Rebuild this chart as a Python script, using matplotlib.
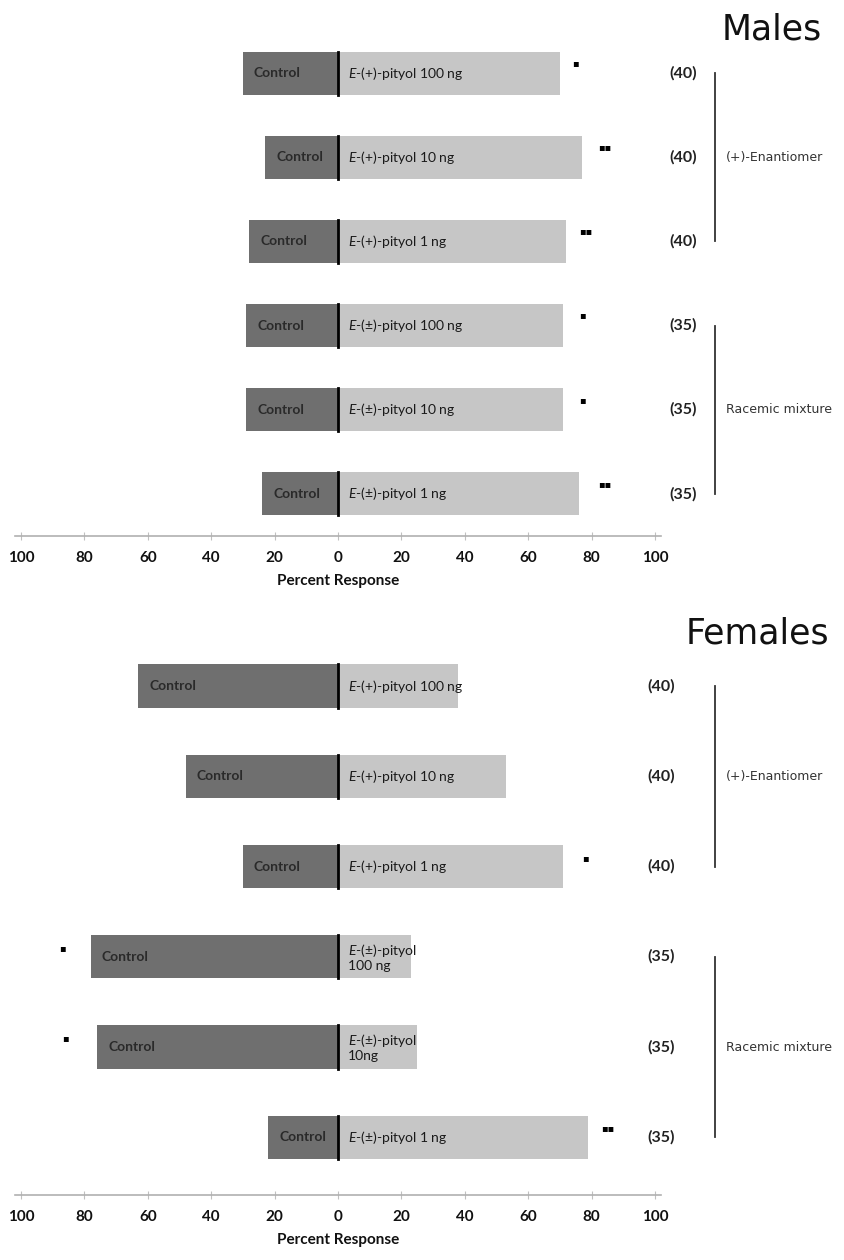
import matplotlib
matplotlib.use("Agg")
import matplotlib.pyplot as plt

plt.rcParams['font.family'] = ['Lato', 'DejaVu Sans']
plt.rcParams['mathtext.fontset'] = 'custom'
plt.rcParams['mathtext.it'] = 'Lato:italic'
plt.rcParams['mathtext.rm'] = 'Lato'

# Males
male_labels = ["$E$-(+)-pityol 100 ng", "$E$-(+)-pityol 10 ng", "$E$-(+)-pityol 1 ng",
               "$E$-(±)-pityol 100 ng", "$E$-(±)-pityol 10 ng", "$E$-(±)-pityol 1 ng"]
male_control = [30, 23, 28, 29, 29, 24]
male_treat = [70, 77, 72, 71, 71, 76]
male_n = ["(40)", "(40)", "(40)", "(35)", "(35)", "(35)"]
male_sig = ["▪", "▪▪", "▪▪", "▪", "▪", "▪▪"]
male_sig_x = [75, 84, 78, 77, 77, 84]

# Females
female_labels = ["$E$-(+)-pityol 100 ng", "$E$-(+)-pityol 10 ng", "$E$-(+)-pityol 1 ng",
                 "$E$-(±)-pityol\n100 ng", "$E$-(±)-pityol\n10ng", "$E$-(±)-pityol 1 ng"]
female_control = [63, 48, 30, 78, 76, 22]
female_treat = [38, 53, 71, 23, 25, 79]
female_n = ["(40)", "(40)", "(40)", "(35)", "(35)", "(35)"]
female_sig = ["", "", "▪", "▪", "▪", "▪▪"]
female_sig_x = [0, 0, 78, -87, -86, 85]

ticks = [-100, -80, -60, -40, -20, 0, 20, 40, 60, 80, 100]

dark = "#6f6f6f"
light = "#c6c6c6"

W, H = 845, 1260
fig = plt.figure(figsize=(W / 100, H / 100), dpi=100)

x0 = 338
scale = 3.17
left = (x0 - 102 * scale) / W
width = 204 * scale / W


def panel(ax, control, treat, labels, nvals, sig, sig_x, height, ylim, n_x, sig_dy):
    pos = list(range(len(control)))
    ax.barh(pos, [-c for c in control], height=height, color=dark, edgecolor="none")
    ax.barh(pos, treat, height=height, color=light, edgecolor="none")
    for p in pos:
        ax.plot([0, 0], [p - height / 2, p + height / 2], color="black", lw=2)
    for p, c, t, lab, n, s, sx in zip(pos, control, treat, labels, nvals, sig, sig_x):
        ax.text(-c + 3.5, p, "Control", ha="left", va="center", fontsize=10,
                fontweight="bold", color="#2a2a2a")
        ax.text(3, p, lab, ha="left", va="center", fontsize=10, color="#1a1a1a",
                linespacing=1.1)
        ax.text(n_x, p, n, ha="center", va="center", fontsize=11.5,
                fontweight="bold", color="#222222", clip_on=False)
        if s:
            ax.text(sx, p + sig_dy, s, ha="center", va="center", fontsize=7,
                    color="black", family="DejaVu Sans", clip_on=False)
    # group brackets
    ax.plot([119, 119], [0, 2], color="#333333", lw=1.3, clip_on=False)
    ax.plot([119, 119], [3, 5], color="#333333", lw=1.3, clip_on=False)
    ax.text(122.5, 1, "(+)-Enantiomer", fontsize=9, family="DejaVu Sans",
            color="#333333", va="center", ha="left", clip_on=False)
    ax.text(122.5, 4, "Racemic mixture", fontsize=9, family="DejaVu Sans",
            color="#333333", va="center", ha="left", clip_on=False)

    ax.set_xlim(-102, 102)
    ax.set_ylim(*ylim)
    ax.set_xticks(ticks)
    ax.set_xticklabels([str(abs(t)) for t in ticks], fontweight="bold", fontsize=11)
    ax.set_yticks([])
    for sp in ["top", "left", "right"]:
        ax.spines[sp].set_visible(False)
    ax.spines["bottom"].set_color("#b0b0b0")
    ax.spines["bottom"].set_linewidth(1.2)
    ax.tick_params(axis="x", direction="inout", length=6, color="#c0c0c0",
                   pad=8, labelcolor="#111111")
    ax.set_xlabel("Percent Response", fontweight="bold", fontsize=11,
                  labelpad=6, color="#111111")


ax1 = fig.add_axes([left, (H - 536) / H, width, (536 - 31) / H])
panel(ax1, male_control, male_treat, male_labels, male_n, male_sig, male_sig_x,
      0.51, (5.5, -0.5), 108.8, -0.12)
ax2 = fig.add_axes([left, (H - 1195) / H, width, (1195 - 641) / H])
panel(ax2, female_control, female_treat, female_labels, female_n, female_sig,
      female_sig_x, 0.48, (5.64, -0.5), 101.8, -0.1)

fig.text(822 / W, 1 - 30 / H, "Males", fontsize=25, family="DejaVu Sans",
         ha="right", va="center", color="#111111")
fig.text(829 / W, 1 - 633 / H, "Females", fontsize=25, family="DejaVu Sans",
         ha="right", va="center", color="#111111")

fig.savefig("out.png", dpi=100, facecolor="white")
